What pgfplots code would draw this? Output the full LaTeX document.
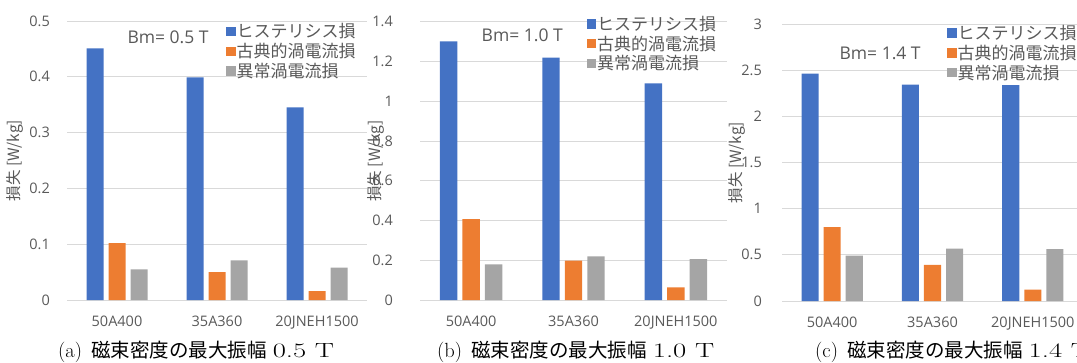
\documentclass[border=0pt]{standalone}
\usepackage{pgfplots}
\pgfplotsset{compat=1.18}
\usepackage{graphicx}
\usepackage{fontspec}
\setsansfont{Open Sans}
\newfontfamily\cjk{Noto Sans CJK JP}
\definecolor{cblue}{HTML}{4472C4}
\definecolor{corange}{HTML}{ED7D31}
\definecolor{cgray}{HTML}{A5A5A5}
\definecolor{gridgray}{HTML}{D9D9D9}
\definecolor{textgray}{HTML}{595959}
\newcommand{\lgfont}{\cjk\fontsize{17}{17}\selectfont}
\newcommand{\subcap}[2]{(#1)\hspace{9pt}{\cjk\fontsize{19.5}{19.5}\selectfont 磁束密度の最大振幅} \scalebox{1.4}[1]{#2\ T}}
\pgfplotsset{
  panel/.style={
    scale only axis, anchor=south west,
    ybar, bar width=0.17,
    xmin=-0.5, xmax=2.5,
    xtick={0,1,2}, xticklabels={50A400,35A360,20JNEH1500},
    axis lines=left, axis line style={draw=none},
    major tick length=0pt,
    ymajorgrids, grid style={gridgray, line width=0.9pt},
    ymin=0,
    /pgf/number format/assume math mode=true,
    tick label style={font=\sffamily\fontsize{14.5}{14.5}\selectfont, text=textgray},
    yticklabel style={inner sep=0pt, anchor=east},
    xticklabel style={inner sep=0pt, anchor=north, yshift=-16pt},
    ylabel={損失 [W/kg]},
    ylabel style={font=\cjk\fontsize{15.5}{15.5}\selectfont, text=textgray, anchor=center},
    legend cell align=left,
    legend image code/.code={\draw[##1,draw=none] (0pt,-4.7pt) rectangle (9.5pt,4.7pt);},
    legend style={draw=none, fill=none, inner sep=0pt, anchor=north west,
      text=textgray,
      row sep=2pt, nodes={inner sep=1pt, font=\lgfont},
      /tikz/every even column/.append style={column sep=3pt}},
  },
}
\begin{document}
\begin{tikzpicture}[x=1pt,y=1pt]
\useasboundingbox (0,0) rectangle (1077,362);
% ---------------- panel (a)
\begin{axis}[panel, at={(67pt,62pt)}, width=300pt, height=279pt,
  ymax=0.5, ytick={0,0.1,0.2,0.3,0.4,0.5},
  yticklabels={0,0.1,0.2,0.3,0.4,0.5},
  yticklabel style={xshift=-17pt},
  ylabel style={at={(axis description cs:-0.173,0.5)}},
  legend style={at={(rel axis cs:0.53,0.995)}}]
\addplot[fill=cblue, draw=none, bar shift=-0.22] coordinates {(0,0.451) (1,0.399) (2,0.345)};
\addplot[fill=corange, draw=none, bar shift=0] coordinates {(0,0.102) (1,0.050) (2,0.016)};
\addplot[fill=cgray, draw=none, bar shift=0.22] coordinates {(0,0.055) (1,0.071) (2,0.058)};
\legend{ヒステリシス損,古典的渦電流損,異常渦電流損}
\node[font=\sffamily\fontsize{17.5}{17.5}\selectfont, text=textgray] at (rel axis cs:0.337,0.943) {Bm= 0.5 T};
\end{axis}
% ---------------- panel (b)
\begin{axis}[panel, at={(420pt,62pt)}, width=307pt, height=278.3pt,
  ymax=1.4, ytick={0,0.2,0.4,0.6,0.8,1,1.2,1.4},
  yticklabels={0,0.2,0.4,0.6,0.8,1,1.2,1.4},
  yticklabel style={xshift=-27pt},
  ylabel style={at={(axis description cs:-0.142,0.5)}},
  legend style={at={(rel axis cs:0.542,1.025)}}]
\addplot[fill=cblue, draw=none, bar shift=-0.22] coordinates {(0,1.301) (1,1.219) (2,1.090)};
\addplot[fill=corange, draw=none, bar shift=0] coordinates {(0,0.407) (1,0.198) (2,0.064)};
\addplot[fill=cgray, draw=none, bar shift=0.22] coordinates {(0,0.179) (1,0.220) (2,0.205)};
\legend{ヒステリシス損,古典的渦電流損,異常渦電流損}
\node[font=\sffamily\fontsize{17.5}{17.5}\selectfont, text=textgray] at (rel axis cs:0.333,0.95) {Bm= 1.0 T};
\end{axis}
% ---------------- panel (c)
\begin{axis}[panel, at={(782pt,61pt)}, width=301pt, height=277pt,
  ymax=3, ytick={0,0.5,1,1.5,2,2.5,3},
  yticklabels={0,0.5,1,1.5,2,2.5,3},
  yticklabel style={xshift=-20pt},
  ylabel style={at={(axis description cs:-0.15,0.5)}},
  legend style={at={(rel axis cs:0.548,1.0)}}]
\addplot[fill=cblue, draw=none, bar shift=-0.22] coordinates {(0,2.462) (1,2.343) (2,2.339)};
\addplot[fill=corange, draw=none, bar shift=0] coordinates {(0,0.801) (1,0.390) (2,0.123)};
\addplot[fill=cgray, draw=none, bar shift=0.22] coordinates {(0,0.491) (1,0.567) (2,0.563)};
\legend{ヒステリシス損,古典的渦電流損,異常渦電流損}
\node[font=\sffamily\fontsize{17.5}{17.5}\selectfont, text=textgray] at (rel axis cs:0.326,0.895) {Bm= 1.4 T};
\end{axis}
% ---------------- captions
\node[anchor=base west, font=\fontsize{20.5}{20.5}\selectfont, inner sep=0pt] at (58,5) {\subcap{a}{0.5}};
\node[anchor=base west, font=\fontsize{20.5}{20.5}\selectfont, inner sep=0pt] at (437,5) {\subcap{b}{1.0}};
\node[anchor=base west, font=\fontsize{20.5}{20.5}\selectfont, inner sep=0pt] at (815,5) {\subcap{c}{1.4}};
\end{tikzpicture}
\end{document}
